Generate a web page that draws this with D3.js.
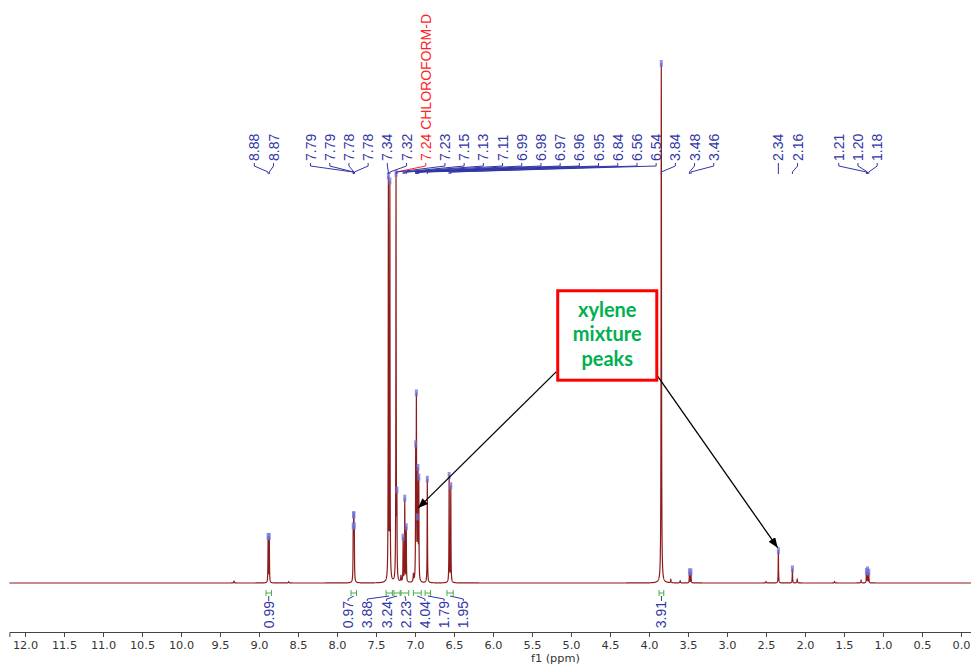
<!DOCTYPE html>
<html>
<head>
<meta charset="utf-8">
<script src="https://cdn.jsdelivr.net/npm/d3@7.9.0/dist/d3.min.js"></script>
<style>
  body { margin: 0; background: #fff; }
  svg { display: block; }
</style>
</head>
<body>
<svg id="chart" width="971" height="664"></svg>
<script>
// picked peaks (ppm) and their heights (3.84 = 100)
const peakPpm    = [8.883, 8.868, 7.792, 7.787, 7.783, 7.778, 7.341, 7.322, 7.243, 7.232,
                    7.152, 7.131, 7.112, 6.991, 6.982, 6.971, 6.962, 6.951, 6.842, 6.562,
                    6.541, 3.842, 3.481, 3.462, 2.341, 2.161, 1.212, 1.198, 1.182];
const peakHeight = [8.8, 8.8, 8.5, 8.5, 8.5, 8.5, 77, 76, 78, 14,
                    8.5, 16, 10.5, 24, 34, 9, 20, 19, 20, 20.5,
                    18.5, 100, 2.2, 2.2, 6.3, 2.8, 2.2, 2.5, 2.1];
const solventPpm = 7.243;
const solventName = "CHLOROFORM-D";

// small unlabelled bumps on the baseline
const minorPpm    = [9.32, 8.62, 7.02, 7.18, 3.72, 3.60, 2.50, 2.10, 1.62, 1.28];
const minorHeight = [0.35, 0.25, 1.5, 1.2, 0.6, 0.4, 0.3, 0.7, 0.3, 0.5];

// integrals: region (ppm) and value
const integralFrom  = [8.91, 7.82, 7.37, 7.27, 7.18, 7.02, 6.87, 6.59, 3.87];
const integralTo    = [8.84, 7.75, 7.29, 7.19, 7.08, 6.92, 6.80, 6.51, 3.81];
const integralValue = ["0.99", "0.97", "3.88", "3.24", "2.23", "4.04", "1.79", "1.95", "3.91"];

const axisTicks = d3.range(0, 12.01, 0.5);
const minorTicks = d3.range(0, 12.01, 0.25);

const svg = d3.select("#chart");
const x = d3.scaleLinear().domain([12.2, -0.13]).range([9.4, 971.1]);
const y = d3.scaleLinear().domain([0, 100]).range([583, 63]);

const blue = "#3236a6";
const red = "#8e1b1b";

// lorentzian line shape for each picked peak
function intensity(p) {
  let s = 0;
  peakPpm.forEach((c, i) => {
    const w = c === 3.842 ? 0.003 : 0.0025;
    const d = (p - c) / w;
    s += peakHeight[i] / (1 + d * d);
  });
  minorPpm.forEach((c, i) => {
    const d = (p - c) / 0.004;
    s += minorHeight[i] / (1 + d * d);
  });
  return s;
}

let grid = d3.range(12.2, -0.13, -0.001).concat(peakPpm, minorPpm);
grid.sort((a, b) => b - a);
const spectrum = grid.map(p => [p, intensity(p)]);

svg.append("path")
  .datum(spectrum)
  .attr("fill", "none")
  .attr("stroke", red)
  .attr("stroke-width", 1.2)
  .attr("d", d3.line().x(d => x(d[0])).y(d => y(d[1])));

// peak pick markers
svg.append("g").selectAll("rect")
  .data(peakPpm)
  .join("rect")
  .attr("x", p => x(p) - 1.5)
  .attr("y", p => y(intensity(p)) - 3)
  .attr("width", 3)
  .attr("height", 7)
  .attr("fill", "#6f72d8")
  .attr("opacity", 0.75);

// label layout: near-coincident peaks are grouped (leaning left), then pushed right
function layoutGroups(xs, gap) {
  const groups = [];
  xs.forEach((v, i) => {
    const g = groups[groups.length - 1];
    if (g && v - g.last < 2.5) { g.idx.push(i); g.last = v; }
    else groups.push({ idx: [i], last: v });
  });
  const out = [];
  let prev = -Infinity;
  groups.forEach(g => {
    const mean = d3.mean(g.idx, i => xs[i]);
    let start = mean - (g.idx.length - 1) * gap * 0.75;
    start = Math.max(start, prev + gap);
    g.idx.forEach((i, k) => { out[i] = start + k * gap; });
    prev = out[g.idx[g.idx.length - 1]];
  });
  return out;
}

// overlapping labels merged into clusters centred on their peaks
function layoutClusters(xs, gap) {
  let clusters = xs.map((v, i) => ({ idx: [i], c: v }));
  let merged = true;
  while (merged) {
    merged = false;
    for (let k = 0; k < clusters.length - 1; k++) {
      const a = clusters[k], b = clusters[k + 1];
      const aEnd = a.c + (a.idx.length - 1) * gap / 2;
      const bStart = b.c - (b.idx.length - 1) * gap / 2;
      if (bStart - aEnd < gap) {
        const idx = a.idx.concat(b.idx);
        clusters.splice(k, 2, { idx: idx, c: d3.mean(idx, i => xs[i]) });
        merged = true;
        break;
      }
    }
  }
  const out = [];
  clusters.forEach(cl => {
    const start = cl.c - (cl.idx.length - 1) * gap / 2;
    cl.idx.forEach((i, k) => { out[i] = start + k * gap; });
  });
  return out;
}

// peak labels on top
const peakX = peakPpm.map(p => x(p));
const labelX = layoutGroups(peakX, 19.2);
const labelY = 161;

const peakLabels = svg.append("g")
  .attr("font-family", "'Liberation Sans', Arial, sans-serif")
  .attr("font-size", 14);
peakPpm.forEach((p, i) => {
  const isSolvent = p === solventPpm;
  const col = isSolvent ? "#ff2424" : blue;
  peakLabels.append("path")
    .attr("d", `M${labelX[i]},${labelY + 2}L${labelX[i]},${labelY + 5}L${peakX[i]},${labelY + 11}L${peakX[i]},${labelY + 13}`)
    .attr("fill", "none")
    .attr("stroke", col)
    .attr("stroke-width", 1);
  peakLabels.append("text")
    .attr("transform", `translate(${labelX[i]},${labelY}) rotate(-90)`)
    .attr("dy", "0.36em")
    .attr("fill", col)
    .text(p.toFixed(2) + (isSolvent ? " " + solventName : ""));
});

// integrals under the baseline
const intMid = integralFrom.map((f, i) => x((f + integralTo[i]) / 2));
const intX = layoutClusters(intMid, 19.2);
const ig = svg.append("g");
integralFrom.forEach((f, i) => {
  const x1 = x(f), x2 = x(integralTo[i]);
  ig.append("path")
    .attr("d", `M${x1},590V596M${x1},593H${x2}M${x2},590V596`)
    .attr("stroke", "#45b045")
    .attr("stroke-width", 1)
    .attr("fill", "none");
  ig.append("path")
    .attr("d", `M${intX[i]},601L${intX[i]},599L${intMid[i]},596`)
    .attr("stroke", blue)
    .attr("stroke-width", 1)
    .attr("fill", "none");
  ig.append("text")
    .attr("transform", `translate(${intX[i]},601) rotate(-90)`)
    .attr("dy", "0.36em")
    .attr("text-anchor", "end")
    .attr("font-family", "'Liberation Sans', Arial, sans-serif")
    .attr("font-size", 14)
    .attr("fill", blue)
    .text(integralValue[i]);
});

// x axis
const axisY = 632;
const gx = svg.append("g").attr("transform", `translate(0,${axisY})`);
gx.call(d3.axisBottom(x).tickValues(minorTicks).tickSize(3).tickFormat(""));
gx.call(d3.axisBottom(x).tickValues(axisTicks).tickSize(5).tickPadding(4).tickFormat(d3.format(".1f")));
gx.selectAll(".domain").attr("stroke", "#444");
gx.selectAll(".tick line").attr("stroke", "#444");
gx.selectAll("text")
  .attr("font-family", "'DejaVu Sans', Verdana, sans-serif")
  .attr("font-size", 11.3)
  .attr("fill", "#333");
svg.append("text")
  .attr("x", x(5.2))
  .attr("y", 662)
  .attr("text-anchor", "middle")
  .attr("font-family", "'DejaVu Sans', Verdana, sans-serif")
  .attr("font-size", 11.3)
  .attr("fill", "#333")
  .text("f1 (ppm)");

// callout for the xylene peaks (data coordinates)
const callout = { left: 5.17, right: 3.9, top: 56.2, bottom: 39 };
const arrows = [
  { from: [5.19, 40.6], to: [6.96, 14.4] },
  { from: [3.91, 40.2], to: [2.35, 6.8] }
];

svg.append("defs").append("marker")
  .attr("id", "head")
  .attr("viewBox", "0 0 10 8")
  .attr("refX", 10)
  .attr("refY", 4)
  .attr("markerWidth", 10)
  .attr("markerHeight", 8)
  .attr("markerUnits", "userSpaceOnUse")
  .attr("orient", "auto")
  .append("path")
  .attr("d", "M0,0L10,4L0,8z")
  .attr("fill", "#000");

arrows.forEach(a => {
  svg.append("line")
    .attr("x1", x(a.from[0])).attr("y1", y(a.from[1]))
    .attr("x2", x(a.to[0])).attr("y2", y(a.to[1]))
    .attr("stroke", "#000")
    .attr("stroke-width", 1.3)
    .attr("marker-end", "url(#head)");
});

svg.append("rect")
  .attr("x", x(callout.left))
  .attr("y", y(callout.top))
  .attr("width", x(callout.right) - x(callout.left))
  .attr("height", y(callout.bottom) - y(callout.top))
  .attr("fill", "#fff")
  .attr("stroke", "#ff0000")
  .attr("stroke-width", 3);

const calloutLines = ["xylene", "mixture", "peaks"];
svg.append("g").selectAll("text")
  .data(calloutLines)
  .join("text")
  .attr("x", (x(callout.left) + x(callout.right)) / 2)
  .attr("y", (d, i) => y(callout.top) + 26 + i * 24.5)
  .attr("text-anchor", "middle")
  .attr("font-family", "Lato, 'Open Sans', sans-serif")
  .attr("font-weight", "bold")
  .attr("font-size", 20)
  .attr("fill", "#00b050")
  .text(d => d);
</script>
</body>
</html>
